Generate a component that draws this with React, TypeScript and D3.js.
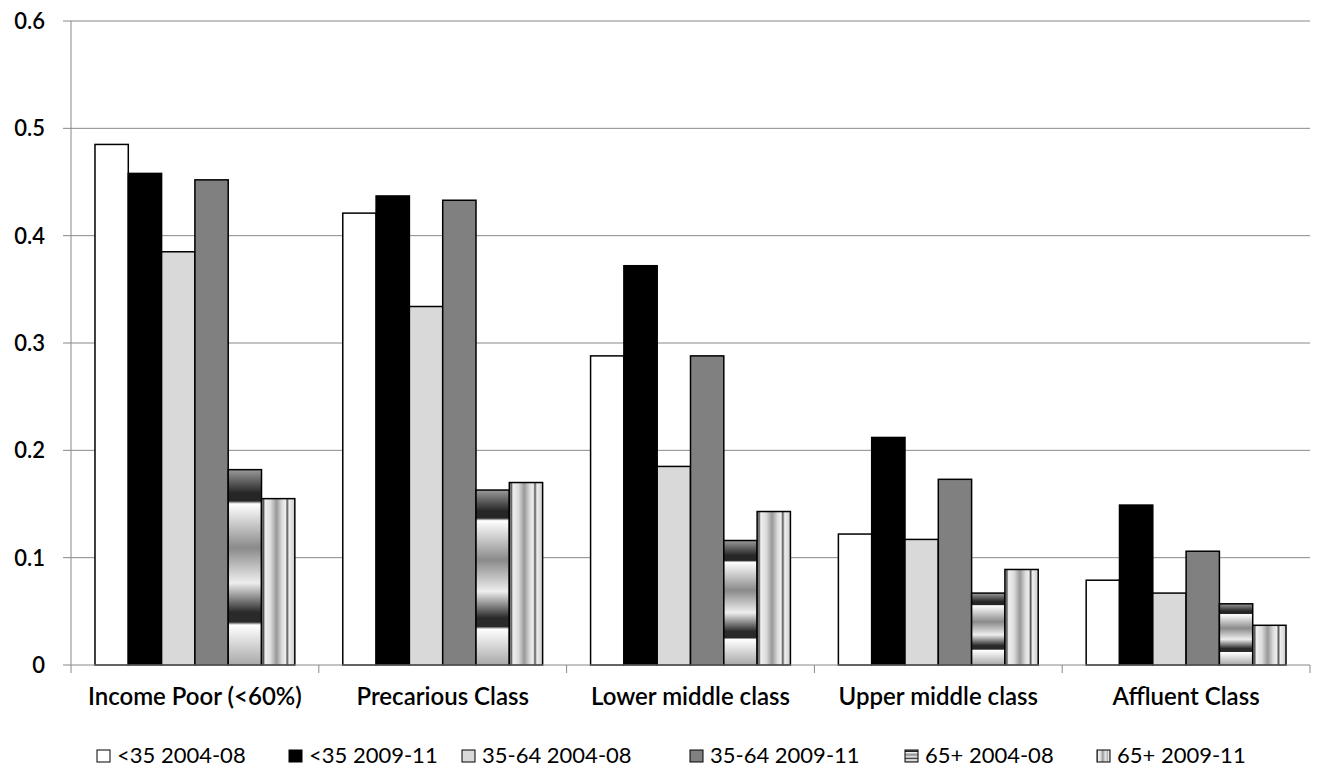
import React from "react";
import * as d3 from "d3";

const categories = [
  "Income Poor (<60%)",
  "Precarious Class",
  "Lower middle class",
  "Upper middle class",
  "Affluent Class",
];
const seriesNames = [
  "<35 2004-08",
  "<35 2009-11",
  "35-64 2004-08",
  "35-64 2009-11",
  "65+ 2004-08",
  "65+ 2009-11",
];
const under35_0408 = [0.485, 0.421, 0.288, 0.122, 0.079];
const under35_0911 = [0.458, 0.437, 0.372, 0.212, 0.149];
const mid_0408 = [0.385, 0.334, 0.185, 0.117, 0.067];
const mid_0911 = [0.452, 0.433, 0.288, 0.173, 0.106];
const over65_0408 = [0.182, 0.163, 0.116, 0.067, 0.057];
const over65_0911 = [0.155, 0.17, 0.143, 0.089, 0.037];
const yTicks = [0, 0.1, 0.2, 0.3, 0.4, 0.5, 0.6];

const seriesValues = [under35_0408, under35_0911, mid_0408, mid_0911, over65_0408, over65_0911];
const fills = ["#ffffff", "#000000", "#d9d9d9", "#808080", "url(#hbands)", "url(#vstripes)"];
// legend layout (box x)
const legendX = [97, 289, 462, 690, 905, 1097];

const FONT = "Lato, 'Open Sans', sans-serif";

export default function App() {
  const W = 1320;
  const H = 769;
  const left = 71;
  const right = 1310;
  const top = 21;
  const bottom = 665;

  const y = d3.scaleLinear().domain([0, 0.6]).range([bottom, top]);
  const x0 = d3.scaleBand<string>().domain(categories).range([left, right]).paddingInner(0).paddingOuter(0);
  const x1 = d3
    .scaleBand<number>()
    .domain(d3.range(seriesNames.length))
    .range([0, x0.bandwidth()])
    .paddingOuter(0.72)
    .paddingInner(0);

  // gradient fills for the two 65+ series
  const hStops: [number, string][] = [
    [0, "#9a9a9a"],
    [0.12, "#262626"],
    [0.16, "#262626"],
    [0.175, "#ffffff"],
    [0.4, "#8a8a8a"],
    [0.58, "#eeeeee"],
    [0.73, "#2a2a2a"],
    [0.78, "#2a2a2a"],
    [0.795, "#ffffff"],
    [1, "#a8a8a8"],
  ];
  const vStops: [number, string][] = [
    [0, "#bbbbbb"],
    [0.06, "#555555"],
    [0.11, "#eeeeee"],
    [0.27, "#dddddd"],
    [0.45, "#999999"],
    [0.62, "#dddddd"],
    [0.72, "#eeeeee"],
    [0.77, "#555555"],
    [0.83, "#eeeeee"],
    [1, "#cccccc"],
  ];

  return (
    <svg width={W} height={H} style={{ position: "absolute", left: 0, top: 0, background: "#fff" }}>
      <defs>
        <linearGradient id="hbands" x1="0" y1="0" x2="0" y2="1">
          {hStops.map(([o, c], i) => (
            <stop key={i} offset={o} stopColor={c} />
          ))}
        </linearGradient>
        <linearGradient id="vstripes" x1="0" y1="0" x2="1" y2="0">
          {vStops.map(([o, c], i) => (
            <stop key={i} offset={o} stopColor={c} />
          ))}
        </linearGradient>
      </defs>
      <rect width={W} height={H} fill="#fff" />

      {/* gridlines + y labels */}
      {yTicks.map((t) => (
        <g key={t}>
          {t > 0 && <line x1={left} x2={right} y1={y(t)} y2={y(t)} stroke="#888" strokeWidth={1} />}
          <line x1={left - 8} x2={left} y1={y(t)} y2={y(t)} stroke="#888" strokeWidth={1} />
          <text
            x={45}
            y={y(t) + 8}
            textAnchor="end"
            fontFamily={FONT}
            fontSize={22}
            fontWeight={600}
            fill="#000"
          >
            {t === 0 ? "0" : d3.format(".1f")(t)}
          </text>
        </g>
      ))}

      {/* bars */}
      {categories.map((c, ci) => (
        <g key={c} transform={`translate(${x0(c)},0)`}>
          {seriesValues.map((vals, si) => (
            <rect
              key={si}
              x={x1(si)}
              y={y(vals[ci])}
              width={x1.bandwidth()}
              height={y(0) - y(vals[ci])}
              fill={fills[si]}
              stroke="#000"
              strokeWidth={1.5}
            />
          ))}
        </g>
      ))}

      {/* axes */}
      <line x1={left} x2={left} y1={top} y2={bottom} stroke="#888" strokeWidth={1} />
      <line x1={left} x2={right} y1={bottom} y2={bottom} stroke="#888" strokeWidth={1} />
      {d3.range(categories.length + 1).map((i) => {
        const xx = left + i * x0.step();
        return <line key={i} x1={xx} x2={xx} y1={bottom} y2={bottom + 8} stroke="#888" strokeWidth={1} />;
      })}
      {categories.map((c) => (
        <text
          key={c}
          x={(x0(c) ?? 0) + x0.bandwidth() / 2}
          y={705}
          textAnchor="middle"
          fontFamily={FONT}
          fontSize={24}
          fontWeight={600}
          fill="#000"
        >
          {c}
        </text>
      ))}

      {/* legend */}
      {seriesNames.map((s, i) => (
        <g key={s} transform={`translate(${legendX[i]},0)`}>
          <rect x={0} y={750} width={13} height={12} fill={fills[i]} stroke="#000" strokeWidth={1} />
          <text x={20} y={763} fontFamily={FONT} fontSize={22} fill="#000">
            {s}
          </text>
        </g>
      ))}
    </svg>
  );
}
